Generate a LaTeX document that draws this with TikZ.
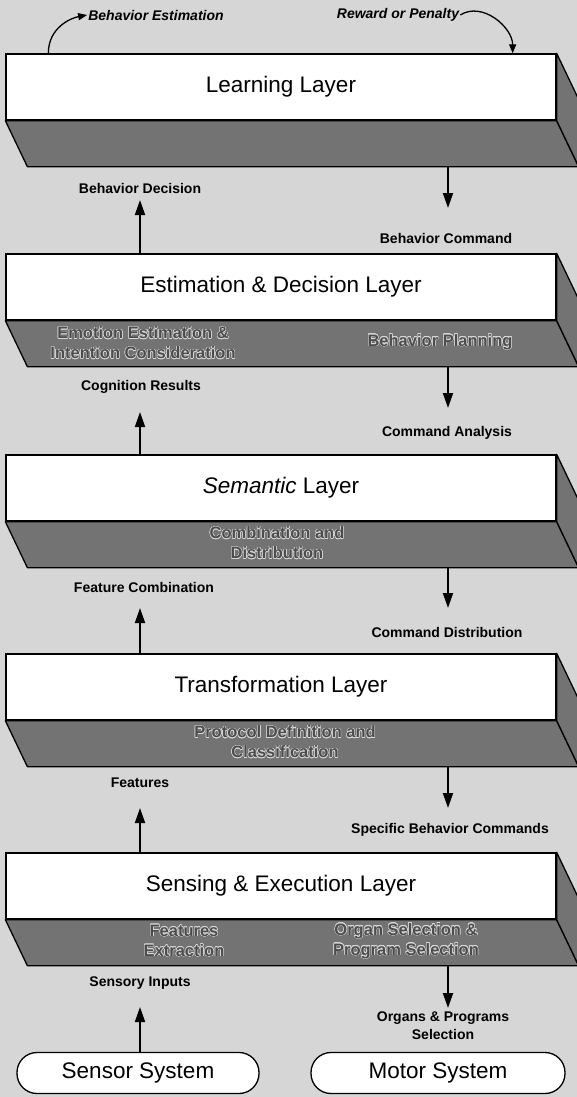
\documentclass[tikz,border=0pt]{standalone}
\usepackage{fontspec}
\setmainfont{Liberation Sans}
\usepackage[copies]{contour}
\contourlength{0.45pt}
\usetikzlibrary{arrows.meta,calc}
\begin{document}
\begin{tikzpicture}[x=1pt,y=-1pt,
  face/.style={draw=black,line width=1.3pt,fill=black!55,line join=round},
  front/.style={draw=black,line width=1.3pt,fill=white,minimum width=550pt,minimum height=66pt,inner sep=0pt,font=\fontsize{22.5}{26}\selectfont},
  lab/.style={font=\bfseries\fontsize{14}{18}\selectfont,inner sep=1pt,align=center},
  ilab/.style={font=\bfseries\itshape\fontsize{14}{16}\selectfont,inner sep=1pt},
  flab/.style={font=\bfseries\fontsize{16.5}{20}\selectfont,text=black!70,align=center,inner sep=0pt},
  conn/.style={line width=1.8pt,-{Triangle[length=15pt,width=10pt]}},
  curv/.style={line width=1.3pt,-{Triangle[length=9pt,width=7pt]}},
  pill/.style={draw,line width=1.3pt,fill=white,rounded corners=20pt,minimum height=41pt,inner sep=0pt,font=\fontsize{22.5}{26}\selectfont}]
\useasboundingbox (0,0) rectangle (577,1097);
\clip (0,0) rectangle (577,1097);
\fill[black!16] (0,0) rectangle (577,1097);
\coordinate (LX) at (140,0);
\coordinate (RX) at (448,0);
% layers
\newcommand\drawlayer[3]{%
  \node[front] (#1) at (281,{#2+33}) {#3};
  \path[face] (#1.south west) -- (#1.south east) -- ++(22,46) -- ($(#1.south west)+(22,46)$) -- cycle;
  \path[face] (#1.north east) -- ++(22,46) -- ($(#1.south east)+(22,46)$) -- (#1.south east) -- cycle;
  \coordinate (#1b) at ($(#1.south west)+(22,46)$);
}
\drawlayer{L1}{54}{Learning Layer}
\drawlayer{L2}{254}{Estimation \& Decision Layer}
\drawlayer{L3}{455}{{\itshape Semantic} Layer}
\drawlayer{L4}{654}{Transformation Layer}
\drawlayer{L5}{853}{Sensing \& Execution Layer}
% face labels
\node[flab] (f2a) at (143,343) {\contour{white!85!black}{Emotion Estimation \&}\\\contour{white!85!black}{Intention Consideration}};
\node[flab] (f2b) at (440,342) {\contour{white!85!black}{Behavior Planning}};
\node[flab] (f3) at (277,543) {\contour{white!85!black}{Combination and}\\\contour{white!85!black}{Distribution}};
\node[flab] (f4) at (285,742) {\contour{white!85!black}{Protocol Definition and}\\\contour{white!85!black}{Classification}};
\node[flab] (f5a) at (184,941) {\contour{white!85!black}{Features}\\\contour{white!85!black}{Extraction}};
\node[flab] (f5b) at (406,941) {\contour{white!85!black}{Organ Selection \&}\\\contour{white!85!black}{Program Selection}};
% systems
\node[pill,minimum width=242pt] (ss) at (138,1073) {Sensor System};
\node[pill,minimum width=254pt] (ms) at (438,1073) {Motor System};
% labels
\node[ilab] (be) at (156,15) {Behavior Estimation};
\node[ilab] (rp) at (398,15) {Reward or Penalty};
\node[lab] (bd) at (140,188) {Behavior Decision};
\node[lab] (bc) at (446,238) {Behavior Command};
\node[lab] (cr) at (141,387) {Cognition Results};
\node[lab] (ca) at (447,433) {Command Analysis};
\node[lab] (fc) at (144,587) {Feature Combination};
\node[lab] (cd) at (447,632) {Command Distribution};
\node[lab] (ft) at (140,783) {Features};
\node[lab] (sb) at (450,830) {Specific Behavior Commands};
\node[lab] (si) at (140,983) {Sensory Inputs};
\node[lab] (op) at (443,1026) {Organs \& Programs\\Selection};
% arrow tips
\coordinate (tl1) at (140,200);
\coordinate (tl2) at (140,412);
\coordinate (tl3) at (140,608);
\coordinate (tl4) at (140,808);
\coordinate (tl5) at (140,1007);
\coordinate (tr1) at (448,208);
\coordinate (tr2) at (448,408);
\coordinate (tr3) at (448,608);
\coordinate (tr4) at (448,808);
\coordinate (tr5) at (448,1008);
% upward arrows
\draw[conn] (L2.north -| LX) -- (tl1);
\draw[conn] (L3.north -| LX) -- (tl2);
\draw[conn] (L4.north -| LX) -- (tl3);
\draw[conn] (L5.north -| LX) -- (tl4);
\draw[conn] (ss.north -| LX) -- (tl5);
% downward arrows
\draw[conn] (L1b -| RX) -- (tr1);
\draw[conn] (L2b -| RX) -- (tr2);
\draw[conn] (L3b -| RX) -- (tr3);
\draw[conn] (L4b -| RX) -- (tr4);
\draw[conn] (L5b -| RX) -- (tr5);
% curved arrows
\draw[curv] ($(L1.north west)+(43,0)$) .. controls +(0,-26) and +(-16,3) .. (be.west);
\draw[curv] (rp.east) .. controls +(22,-14) and +(0,-26) .. ($(L1.north east)+(-44,0)$);
\end{tikzpicture}
\end{document}
